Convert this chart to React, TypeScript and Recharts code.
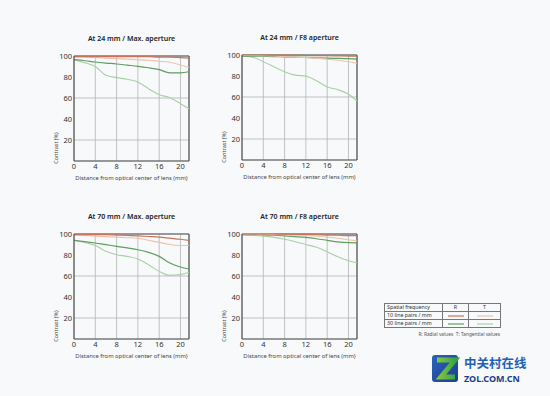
import React from "react";
import { LineChart, Line, XAxis, YAxis, CartesianGrid, ReferenceLine } from "recharts";

// distance from optical center (mm)
const distances = [0, 2, 4, 6, 8, 10, 12, 14, 16, 18, 20, 21.6];
const xTicks = [0, 4, 8, 12, 16, 20];
const yTicks = [20, 40, 60, 80, 100];

// At 24 mm / Max. aperture
const w24maxR10 = [99.5, 99.5, 99.5, 99.5, 99.5, 99.5, 99.5, 99.5, 99, 99, 98.5, 98];
const w24maxT10 = [99, 99, 98.5, 98, 97.5, 97, 96.5, 96, 95, 94, 91.5, 89];
const w24maxR30 = [96.5, 95.5, 94.3, 93.3, 92.4, 91.3, 90.2, 88.8, 87, 84, 84, 85];
const w24maxT30 = [96.5, 93.6, 90, 81.6, 79.4, 77.8, 75.2, 68.9, 63.2, 60.3, 54.6, 49.8];

// At 24 mm / F8 aperture
const w24f8R10 = [100, 100, 100, 99.8, 99.7, 99.6, 99.5, 99.4, 99.3, 99.2, 99, 99];
const w24f8T10 = [99.5, 99.5, 99.3, 99, 98.5, 98, 97.5, 97, 96, 95, 93.5, 92];
const w24f8R30 = [99, 99, 98.8, 98.5, 98.3, 98, 97.7, 97.3, 97, 96.8, 96.5, 96];
const w24f8T30 = [99, 98, 93.6, 88.8, 84, 80.8, 79.9, 75.4, 69.6, 67, 62.6, 56.2];

// At 70 mm / Max. aperture
const t70maxR10 = [99.5, 99.5, 99.4, 99.3, 99, 98.7, 98.2, 97.6, 97, 96, 95, 94];
const t70maxT10 = [99, 98.5, 98, 97.5, 97, 96.5, 96, 94, 92, 90, 89, 89];
const t70maxR30 = [94, 92.8, 91.4, 89.8, 88.3, 86.7, 85, 82.5, 78.7, 72.4, 68.6, 66.7];
const t70maxT30 = [94, 92, 89, 83.5, 80.3, 78.7, 76.2, 70.8, 64.4, 60.6, 61.3, 63.5];

// At 70 mm / F8 aperture
const t70f8R10 = [100, 100, 100, 100, 99.8, 99.7, 99.5, 99.3, 99, 98.8, 98.5, 98.5];
const t70f8T10 = [100, 100, 99.8, 99.6, 99.3, 99, 98.5, 97.8, 97, 96, 94.5, 93.5];
const t70f8R30 = [99.5, 99.5, 99.2, 98.8, 98.2, 97.5, 96.7, 95.5, 94, 92.5, 91.7, 91.5];
const t70f8T30 = [99, 98.7, 98, 96.8, 95, 92.7, 90, 87.3, 83, 78.3, 74.5, 72.6];

const C_R10 = "#c9735c";
const C_T10 = "#f0c0aa";
const C_R30 = "#5f9f5f";
const C_T30 = "#a9d0a4";

const FONT = "'Noto Sans', 'Open Sans', sans-serif";

function rows(r10, t10, r30, t30) {
  return distances.map((x, i) => ({ x, r10: r10[i], t10: t10[i], r30: r30[i], t30: t30[i] }));
}

const panels = [
  { title: "At 24 mm / Max. aperture", left: 74, top: 56, data: rows(w24maxR10, w24maxT10, w24maxR30, w24maxT30) },
  { title: "At 24 mm / F8 aperture", left: 242, top: 55, data: rows(w24f8R10, w24f8T10, w24f8R30, w24f8T30) },
  { title: "At 70 mm / Max. aperture", left: 74, top: 234, data: rows(t70maxR10, t70maxT10, t70maxR30, t70maxT30) },
  { title: "At 70 mm / F8 aperture", left: 242, top: 234, data: rows(t70f8R10, t70f8T10, t70f8R30, t70f8T30) },
];

const PW = 115;
const PH = 105;

function Panel({ title, left, top, data }) {
  return (
    <>
      <div
        style={{
          position: "absolute",
          left: left - 40,
          top: top - 23,
          width: PW + 80,
          textAlign: "center",
          fontSize: 7,
          fontWeight: 600,
          color: "#222",
          lineHeight: "12px",
        }}
      >
        {title}
      </div>
      <div
        style={{
          position: "absolute",
          left: left - 30,
          top: top + 75,
          width: 24,
          height: 34,
          display: "flex",
          alignItems: "center",
          justifyContent: "center",
        }}
      >
        <div style={{ transform: "rotate(-90deg)", whiteSpace: "nowrap", fontSize: 5.5, color: "#444" }}>
          Contrast (%)
        </div>
      </div>
      <div
        style={{
          position: "absolute",
          left: left - 20,
          top: top + PH + 13,
          width: PW + 40,
          textAlign: "center",
          fontSize: 5.8,
          color: "#444",
          lineHeight: "8px",
        }}
      >
        Distance from optical center of lens (mm)
      </div>
      <div style={{ position: "absolute", left: left - 40, top: top - 5 }}>
        <LineChart width={PW + 45} height={PH + 35} data={data} margin={{ top: 5, right: 5, left: 0, bottom: 0 }}>
          <CartesianGrid stroke="#b4b4b4" strokeWidth={0.8} />
          <XAxis
            dataKey="x"
            type="number"
            domain={[0, 21.6]}
            ticks={xTicks}
            height={30}
            tickSize={0}
            tickMargin={3}
            tick={{ fontSize: 7.5, fill: "#333" }}
            axisLine={{ stroke: "#555", strokeWidth: 1.2 }}
          />
          <YAxis
            type="number"
            domain={[0, 100]}
            ticks={yTicks}
            width={40}
            tickSize={0}
            tickMargin={2}
            tick={{ fontSize: 7.5, fill: "#333" }}
            axisLine={{ stroke: "#555", strokeWidth: 1.2 }}
          />
          <ReferenceLine x={21.6} stroke="#555" strokeWidth={1.2} />
          <ReferenceLine y={100} stroke="#555" strokeWidth={1.2} />
          <Line dataKey="t30" type="monotone" stroke={C_T30} strokeWidth={1.1} dot={false} isAnimationActive={false} />
          <Line dataKey="r30" type="monotone" stroke={C_R30} strokeWidth={1.2} dot={false} isAnimationActive={false} />
          <Line dataKey="t10" type="monotone" stroke={C_T10} strokeWidth={1.1} dot={false} isAnimationActive={false} />
          <Line dataKey="r10" type="monotone" stroke={C_R10} strokeWidth={1.2} dot={false} isAnimationActive={false} />
        </LineChart>
      </div>
    </>
  );
}

const legendRows = [
  { label: "10 line pairs / mm", r: C_R10, t: C_T10 },
  { label: "30 line pairs / mm", r: C_R30, t: C_T30 },
];

function Swatch({ color }) {
  return (
    <svg width={16} height={4} style={{ display: "block", margin: "0 auto" }}>
      <line x1={0} y1={2} x2={16} y2={2} stroke={color} strokeWidth={1.2} />
    </svg>
  );
}

function LegendTable() {
  const cell = { border: "0.8px solid #777", padding: "0 2px", height: 7, lineHeight: "7px" };
  return (
    <div style={{ position: "absolute", left: 384, top: 303, fontSize: 5.3, color: "#333" }}>
      <table style={{ borderCollapse: "collapse", width: 116, tableLayout: "fixed" }}>
        <colgroup>
          <col style={{ width: 58 }} />
          <col style={{ width: 26 }} />
          <col style={{ width: 32 }} />
        </colgroup>
        <tbody>
          <tr>
            <td style={cell}>Spatial frequency</td>
            <td style={{ ...cell, textAlign: "center" }}>R</td>
            <td style={{ ...cell, textAlign: "center" }}>T</td>
          </tr>
          {legendRows.map((r) => (
            <tr key={r.label}>
              <td style={cell}>{r.label}</td>
              <td style={cell}><Swatch color={r.r} /></td>
              <td style={cell}><Swatch color={r.t} /></td>
            </tr>
          ))}
        </tbody>
      </table>
      <div style={{ marginTop: 3, textAlign: "right", fontSize: 4.8, color: "#555", width: 116 }}>
        R: Radial values&nbsp;&nbsp;T: Tangential values
      </div>
    </div>
  );
}

function Watermark() {
  return (
    <svg style={{ position: "absolute", left: 428, top: 349 }} width={118} height={42}>
      <defs>
        <linearGradient id="zg" x1="0" y1="0" x2="1" y2="1">
          <stop offset="0" stopColor="#2a63b8" />
          <stop offset="1" stopColor="#1d3f8f" />
        </linearGradient>
        <linearGradient id="zg2" x1="0" y1="0" x2="1" y2="0">
          <stop offset="0" stopColor="#8cc63f" />
          <stop offset="1" stopColor="#3aa546" />
        </linearGradient>
      </defs>
      <rect x={4} y={6} width={26} height={27} rx={3} fill="url(#zg)" />
      <path d="M9 11 L27 11 L13 28 L27 28" stroke="url(#zg2)" strokeWidth={5} fill="none" />
      <text x={36} y={19} fontSize={12.5} fontWeight={700} fill="#1f5fb5" fontFamily="'Noto Sans CJK SC', sans-serif">
        中关村在线
      </text>
      <text x={36} y={33} fontSize={9} fontWeight={700} fill="#1b3f85" fontFamily={FONT}>
        ZOL.COM.CN
      </text>
    </svg>
  );
}

export default function App() {
  return (
    <div
      style={{
        position: "relative",
        width: 550,
        height: 396,
        background: "#f7f9fb",
        fontFamily: FONT,
        overflow: "hidden",
      }}
    >
      <style>{`body{margin:0}`}</style>
      {panels.map((p) => (
        <Panel key={p.title} {...p} />
      ))}
      <LegendTable />
      <Watermark />
    </div>
  );
}
